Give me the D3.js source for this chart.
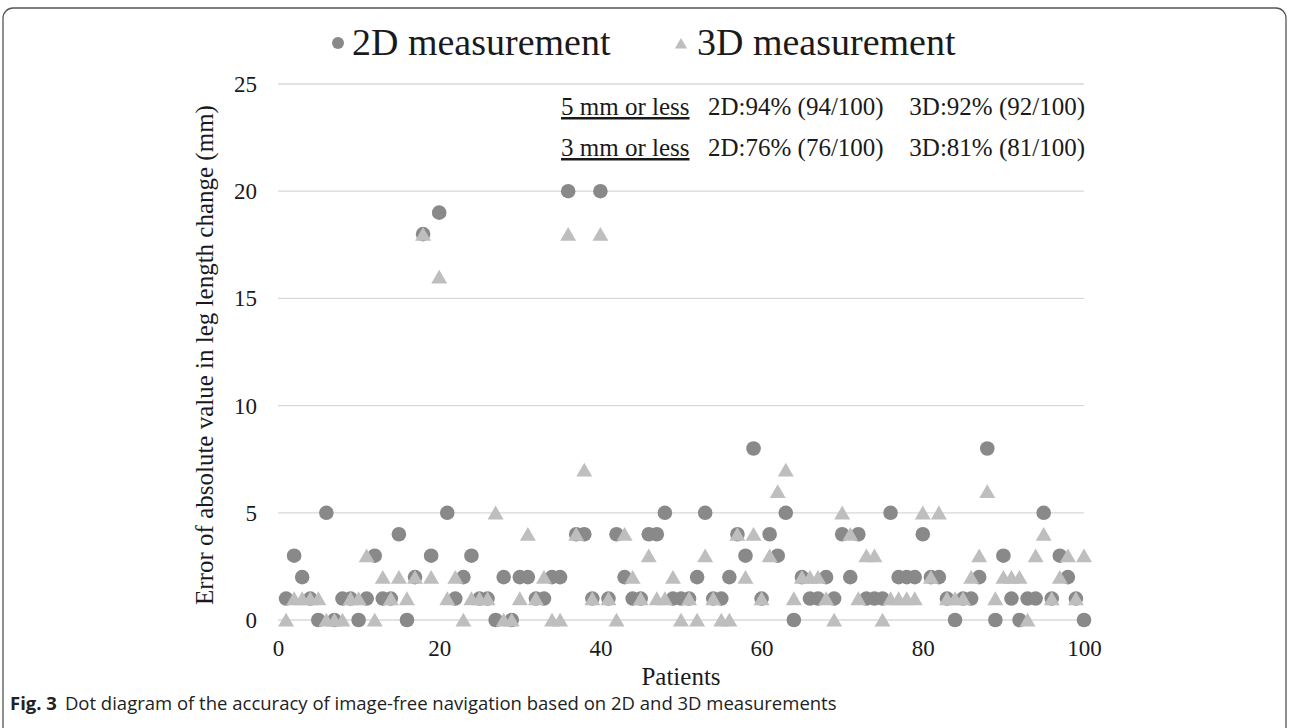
<!DOCTYPE html>
<html><head><meta charset="utf-8">
<script src="https://cdn.jsdelivr.net/npm/d3@7"></script>
<style>body{margin:0;background:#fff}svg{display:block}</style>
</head><body><svg id="c" width="1290" height="728"></svg>
<script>
const patients = d3.range(1, 101);
const values2D = [1,3,2,1,0,5,0,1,1,0, 1,3,1,1,4,0,2,18,3,19,
  5,1,2,3,1,1,0,2,0,2, 2,1,1,2,2,20,4,4,1,20,
  1,4,2,1,1,4,4,5,1,1, 1,2,5,1,1,2,4,3,8,1,
  4,3,5,0,2,1,1,2,1,4, 2,4,1,1,1,5,2,2,2,4,
  2,2,1,0,1,1,2,8,0,3, 1,0,1,1,5,1,3,2,1,0];
const values3D = [0,1,1,1,1,0,0,0,1,1, 3,0,2,1,2,1,2,18,2,16,
  1,2,0,1,1,1,5,0,0,1, 4,1,2,0,0,18,4,7,1,18,
  1,0,4,2,1,3,1,1,2,0, 1,0,3,1,0,0,4,2,4,1,
  3,6,7,1,2,2,2,1,0,5, 4,1,3,3,0,1,1,1,1,5,
  2,5,1,1,1,2,3,6,1,2, 2,2,0,3,4,1,2,3,1,3];
const xTicks = [0,20,40,60,80,100];
const yTicks = [0,5,10,15,20,25];
const seriesNames = ["2D measurement","3D measurement"];
const noteLabels = ["5 mm or less","3 mm or less"];
const note2D = ["2D:94% (94/100)","2D:76% (76/100)"];
const note3D = ["3D:92% (92/100)","3D:81% (81/100)"];
const c2 = "#898989", c3 = "#bebebe", ink = "#1a1a1a";
const serif = "'Liberation Serif','Times New Roman',serif";

const svg = d3.select("#c");
svg.append("rect").attr("x",3).attr("y",8).attr("width",1283).attr("height",730)
  .attr("rx",10).attr("fill","#fff").attr("stroke","#555").attr("stroke-width",1.3);

const x = d3.scaleLinear().domain([0,100]).range([278,1084]);
const y = d3.scaleLinear().domain([0,25]).range([620,84]);

// grid
svg.append("g").selectAll("line").data(yTicks).join("line")
  .attr("x1",x(0)).attr("x2",x(100)).attr("y1",d=>y(d)).attr("y2",d=>y(d))
  .attr("stroke","#d9d9d9").attr("stroke-width",1.3);

// axes (labels only)
const yAxis = svg.append("g").attr("transform",`translate(${x(0)-21},0)`)
  .call(d3.axisLeft(y).tickValues(yTicks).tickSize(0).tickPadding(0));
yAxis.select(".domain").remove();
yAxis.selectAll("text").attr("font-family",serif).attr("font-size",23).attr("fill",ink).attr("dy","0.33em");

const xAxis = svg.append("g").attr("transform",`translate(0,${y(0)+19})`)
  .call(d3.axisBottom(x).tickValues(xTicks).tickSize(0).tickPadding(0));
xAxis.select(".domain").remove();
xAxis.selectAll("text").attr("font-family",serif).attr("font-size",23).attr("fill",ink).attr("dy","0.72em");

svg.append("text").attr("x",681).attr("y",685).attr("text-anchor","middle")
  .attr("font-family",serif).attr("font-size",25).attr("fill",ink).text("Patients");
svg.append("text").attr("transform","translate(213,355) rotate(-90)").attr("text-anchor","middle")
  .attr("font-family",serif).attr("font-size",25).attr("fill",ink)
  .text("Error of absolute value in leg length change (mm)");

// points
const tri = d3.symbol().type(d3.symbolTriangle).size(110);
svg.append("g").selectAll("circle").data(patients).join("circle")
  .attr("cx",d=>x(d)).attr("cy",(d,i)=>y(values2D[i])).attr("r",7.3).attr("fill",c2);
svg.append("g").selectAll("path").data(patients).join("path")
  .attr("d",tri).attr("transform",(d,i)=>`translate(${x(d)},${y(values3D[i])+2})`).attr("fill",c3);

// legend
svg.append("circle").attr("cx",338).attr("cy",43).attr("r",6).attr("fill",c2);
svg.append("text").attr("x",352).attr("y",55).attr("font-family",serif).attr("font-size",38).attr("fill",ink).text(seriesNames[0]);
svg.append("path").attr("d",d3.symbol().type(d3.symbolTriangle).size(65)).attr("transform","translate(681,45)").attr("fill",c3);
svg.append("text").attr("x",697).attr("y",55).attr("font-family",serif).attr("font-size",38).attr("fill",ink).text(seriesNames[1]);

// annotation
noteLabels.forEach((lab,k)=>{
  const by = 115 + k*41;
  svg.append("text").attr("x",561).attr("y",by).attr("font-family",serif).attr("font-size",25).attr("fill",ink)
    .attr("text-decoration","underline").text(lab);
  svg.append("text").attr("x",708).attr("y",by).attr("font-family",serif).attr("font-size",25).attr("fill",ink).text(note2D[k]);
  svg.append("text").attr("x",1085).attr("y",by).attr("text-anchor","end").attr("font-family",serif).attr("font-size",25).attr("fill",ink).text(note3D[k]);
});

// caption
const cap = svg.append("text").attr("x",10).attr("y",710).attr("font-family","'Open Sans','Noto Sans',sans-serif").attr("font-size",18.5).attr("fill","#222");
cap.append("tspan").attr("font-weight","bold").text("Fig. 3");
cap.append("tspan").attr("dx",8).text("Dot diagram of the accuracy of image-free navigation based on 2D and 3D measurements");
</script></body></html>
